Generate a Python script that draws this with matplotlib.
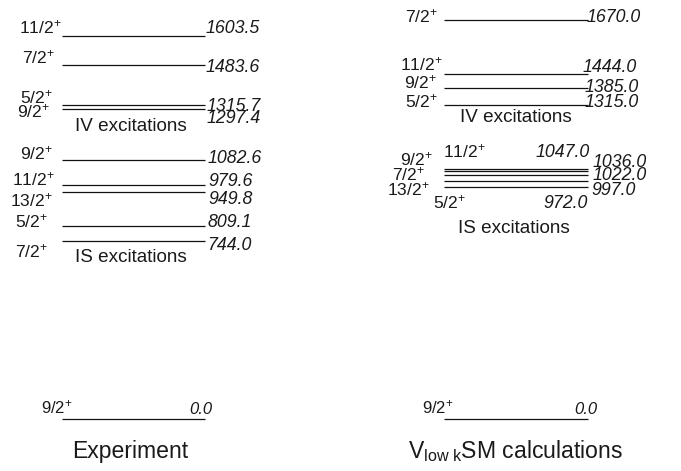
import matplotlib
matplotlib.use("Agg")
import matplotlib.pyplot as plt
import matplotlib.transforms as mtransforms

# ---------------- data ----------------
exp_spins = ['9/2', '7/2', '5/2', '13/2', '11/2', '9/2', '9/2', '5/2', '7/2', '11/2']
exp_energies = [0.0, 744.0, 809.1, 949.8, 979.6, 1082.6, 1297.4, 1315.7, 1483.6, 1603.5]
exp_energy_labels = ['0.0', '744.0', '809.1', '949.8', '979.6', '1082.6', '1297.4',
                     '1315.7', '1483.6', '1603.5']

calc_spins = ['9/2', '5/2', '13/2', '7/2', '9/2', '11/2', '5/2', '9/2', '11/2', '7/2']
calc_energies = [0.0, 972.0, 997.0, 1022.0, 1036.0, 1047.0, 1315.0, 1385.0, 1444.0, 1670.0]
calc_energy_labels = ['0.0', '972.0', '997.0', '1022.0', '1036.0', '1047.0', '1315.0',
                      '1385.0', '1444.0', '1670.0']

group_labels = ['IS excitations', 'IV excitations']
column_titles = ['Experiment', r'V$_{\mathrm{low\ k}}$SM calculations']

# ---------------- layout (pixels, top-left origin) ----------------
W, H = 681, 471
exp_x = (62, 205)
calc_x = (444, 588)
# spin label: (x, baseline y, ha); energy label: (x, baseline y, ha)
exp_spin_pos = [(73, 413.5, 'right'), (48, 257, 'right'), (48, 227, 'right'),
                (53, 206.5, 'right'), (55, 185, 'right'), (53, 159, 'right'),
                (50, 117, 'right'), (53, 103, 'right'), (55, 63, 'right'),
                (62, 33, 'right')]
exp_en_pos = [(212, 413.5, 'right'), (207, 250, 'left'), (208, 227, 'left'),
              (208, 204, 'left'), (208, 186, 'left'), (208, 163, 'left'),
              (207, 123, 'left'), (207, 111, 'left'), (206, 72, 'left'),
              (206, 33, 'left')]
calc_spin_pos = [(454, 413.5, 'right'), (433, 208, 'left'), (430, 195, 'right'),
                 (425, 180, 'right'), (433, 165, 'right'), (443, 157, 'left'),
                 (438, 107, 'right'), (437, 88, 'right'), (443, 70, 'right'),
                 (438, 22, 'right')]
calc_en_pos = [(597, 413.5, 'right'), (588, 208, 'right'), (591, 195, 'left'),
               (593, 180, 'left'), (593, 167, 'left'), (590, 157, 'right'),
               (585, 107, 'left'), (585, 92, 'left'), (583, 72, 'left'),
               (587, 22, 'left')]
group_pos = {'exp': [(131, 262), (131, 131)], 'calc': [(514, 233), (516, 122)]}
title_pos = [(130, 458, 'center'), (408, 458, 'left')]

plt.rcParams['font.family'] = ['Liberation Sans', 'DejaVu Sans']
plt.rcParams['mathtext.fontset'] = 'custom'
plt.rcParams['mathtext.rm'] = 'Liberation Sans'
plt.rcParams['mathtext.it'] = 'Liberation Sans:italic'
plt.rcParams['mathtext.default'] = 'regular'

fig = plt.figure(figsize=(W / 100, H / 100), dpi=100)
ax = fig.add_axes([0, 0, 1, 1])
ax.set_xlim(0, W)
# energy scale: pixel y = 419 - 0.2389 * E
scale = 0.2389
y0 = 419.0
ax.set_ylim((y0 - H) / scale, y0 / scale)
ax.axis('off')

pix = mtransforms.Affine2D().scale(1 / W, -1 / H).translate(0, 1) + fig.transFigure

ax.hlines(exp_energies, exp_x[0], exp_x[1], color='#111111', lw=0.9)
ax.hlines(calc_energies, calc_x[0], calc_x[1], color='#111111', lw=0.9)

col = '#1a1a1a'
for spins, elabels, spos, epos in [(exp_spins, exp_energy_labels, exp_spin_pos, exp_en_pos),
                                   (calc_spins, calc_energy_labels, calc_spin_pos, calc_en_pos)]:
    for i, (s, e) in enumerate(zip(spins, elabels)):
        fs_s = 12.0 if i == 0 else 12.6
        fs_e = 12.0 if i == 0 else 12.8
        x, y, ha = spos[i]
        ax.text(x, y, s + r'$^{+}$', transform=pix, ha=ha, va='baseline',
                fontsize=fs_s, color=col)
        x, y, ha = epos[i]
        ax.text(x, y, e, transform=pix, ha=ha, va='baseline', fontsize=fs_e,
                style='italic', color=col)

for key in ['exp', 'calc']:
    for lab, (x, y) in zip(group_labels, group_pos[key]):
        ax.text(x, y, lab, transform=pix, ha='center', va='baseline',
                fontsize=13.6, color=col)

for t, (x, y, ha) in zip(column_titles, title_pos):
    ax.text(x, y, t, transform=pix, ha=ha, va='baseline', fontsize=16.6, color=col)

fig.savefig('out.png', dpi=100)
